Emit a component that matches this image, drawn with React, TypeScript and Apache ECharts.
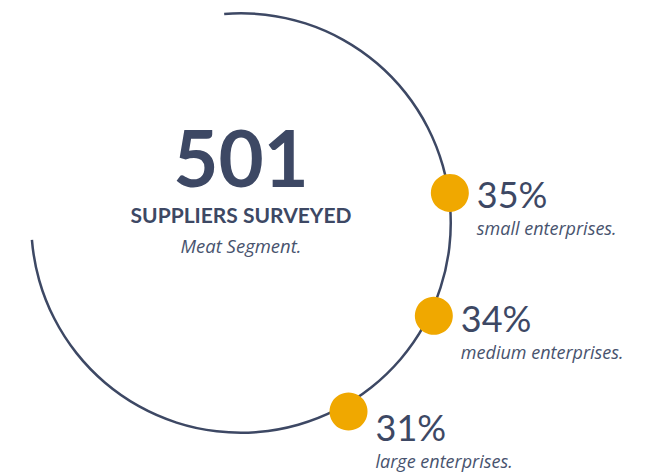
import React, { useEffect, useRef } from "react";
import * as echarts from "echarts";

// ---- data ----
const totalSuppliers = 501;
const headline = "SUPPLIERS SURVEYED";
const segmentName = "Meat Segment.";
const categories = ["small enterprises.", "medium enterprises.", "large enterprises."];
const shares = [35, 34, 31];
// marker placement along the ring (degrees, math convention) and radius (px)
const markerAngles = [8.2, -25.7, -60.3];
const markerRadius = [211, 214, 217];
const labelNudge = [13, 14, 28];

const DARK = "#3d4864";
const SUB = "#48536e";
const GOLD = "#F0A800";
const FONT = "Lato, 'Open Sans', sans-serif";
const SUBFONT = "'Open Sans', Lato, sans-serif";

export default function App() {
  const ref = useRef<HTMLDivElement>(null);
  useEffect(() => {
    if (!ref.current) return;
    const chart = echarts.init(ref.current, null, { renderer: "svg" });
    const cx = 241;
    const cy = 223;
    chart.setOption({
      animation: false,
      backgroundColor: "#ffffff",
      polar: { center: [cx, cy], radius: 220 },
      angleAxis: {
        type: "value",
        min: -180,
        max: 180,
        startAngle: 180,
        clockwise: false,
        show: false,
      },
      radiusAxis: { type: "value", min: 0, max: 220, show: false },
      series: [
        {
          type: "gauge",
          center: [cx, cy],
          radius: 211,
          startAngle: 94.6,
          endAngle: -175.4,
          min: 0,
          max: 1,
          silent: true,
          axisLine: { show: true, roundCap: false, lineStyle: { width: 2.5, color: [[1, DARK]] } },
          splitLine: { show: false },
          axisTick: { show: false },
          axisLabel: { show: false },
          pointer: { show: false },
          anchor: { show: false },
          title: { show: false },
          detail: { show: false },
          data: [],
        },
        {
          type: "scatter",
          coordinateSystem: "polar",
          symbol: "circle",
          symbolSize: 38,
          itemStyle: { color: GOLD, opacity: 1 },
          z: 5,
          data: shares.map((s, i) => ({
            value: [markerRadius[i], markerAngles[i]],
            label: { offset: [0, labelNudge[i]] },
          })),
          label: {
            show: true,
            position: "right",
            distance: 8,
            formatter: (p: any) => `{p|${shares[p.dataIndex]}%}\n{s|${categories[p.dataIndex]}}`,
            rich: {
              p: { fontFamily: FONT, fontSize: 36, fontWeight: 400, color: DARK, lineHeight: 44 },
              s: { fontFamily: SUBFONT, fontSize: 18, fontStyle: "italic", fontWeight: 400, color: SUB, lineHeight: 24 },
            },
          },
        },
      ],
      graphic: [
        {
          type: "text",
          x: cx,
          y: 157,
          style: {
            text: String(totalSuppliers),
            fontFamily: FONT,
            fontSize: 78,
            fontWeight: 700,
            fill: DARK,
            textAlign: "center",
            textVerticalAlign: "middle",
          },
        },
        {
          type: "text",
          x: cx,
          y: 214,
          style: {
            text: headline,
            fontFamily: FONT,
            fontSize: 21,
            fontWeight: 700,
            fill: DARK,
            textAlign: "center",
            textVerticalAlign: "middle",
          },
        },
        {
          type: "text",
          x: cx,
          y: 245,
          style: {
            text: segmentName,
            fontFamily: SUBFONT,
            fontSize: 18.5,
            fontStyle: "italic",
            fontWeight: 400,
            fill: SUB,
            textAlign: "center",
            textVerticalAlign: "middle",
          },
        },
      ],
    });
    return () => chart.dispose();
  }, []);
  return (
    <div
      ref={ref}
      style={{ position: "fixed", left: 0, top: 0, width: 667, height: 473 }}
    />
  );
}
